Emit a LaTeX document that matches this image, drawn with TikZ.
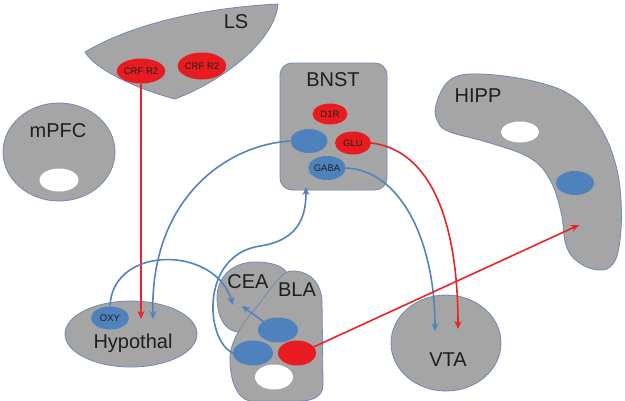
\documentclass[tikz,border=0pt]{standalone}
\usepackage{fontspec}
\setmainfont{Liberation Sans}
\usetikzlibrary{shapes.geometric,arrows.meta}
\definecolor{regfill}{RGB}{165,165,165}
\definecolor{regline}{RGB}{112,138,175}
\definecolor{cellblue}{RGB}{79,129,189}
\definecolor{cellred}{RGB}{232,28,32}
\definecolor{lineblue}{RGB}{84,130,188}
\definecolor{linered}{RGB}{232,36,40}
\definecolor{txt}{RGB}{30,30,30}
\begin{document}
\begin{tikzpicture}[x=1pt,y=-1pt,
  region/.style={fill=regfill,draw=regline,line width=0.8pt},
  cell/.style={ellipse,inner sep=0pt,draw=none,text=txt,font=\fontsize{9.5}{11}\selectfont},
  bluecell/.style={cell,fill=cellblue},
  redcell/.style={cell,fill=cellred},
  whitecell/.style={cell,fill=white},
  lab/.style={inner sep=0pt,text=txt,font=\fontsize{20}{24}\selectfont},
  tipstyle/.style={-{Stealth[length=8pt,width=7pt,inset=2.5pt]}},
  bluearrow/.style={draw=lineblue,line width=1.6pt,tipstyle},
  redarrow/.style={draw=linered,line width=1.6pt,tipstyle}
]
\useasboundingbox (0,0) rectangle (625,400);

% ---- regions ----
% LS
\draw[region] (85,52) .. controls (130,25) and (200,8) .. (278,4)
  .. controls (275,40) and (225,80) .. (175,99)
  .. controls (140,90) and (95,70) .. (85,52) -- cycle;
\node[lab] (lsl) at (236,22) {LS};
% mPFC
\draw[region] (59,152) ellipse [x radius=56, y radius=49];
\node[lab] (mpfcl) at (58,131) {mPFC};
% BNST
\node[region,rounded corners=12pt,minimum width=107pt,minimum height=127pt] (bnst) at (333.5,126.5) {};
\node[lab] (bnstl) at (333,80) {BNST};
% HIPP
\draw[region] plot[smooth cycle,tension=0.65] coordinates {(436,105) (450,80) (480,74) (537,82) (575,98) (600,127) (615,162) (621,200) (620,240) (613,264) (598,270) (578,262) (566,245) (561,212) (550,180) (530,158) (490,143) (450,132) (438,122)};
\node[lab] (hippl) at (478,96) {HIPP};
% Hypothal
\draw[region] (131,334) ellipse [x radius=66, y radius=33];
\node[lab] (hypl) at (133,343) {Hypothal};
% VTA
\draw[region] (446,343) ellipse [x radius=55, y radius=48];
\node[lab] (vtal) at (448,360) {VTA};
% CEA
\draw[region] (217,300) .. controls (216,275) and (235,262) .. (255,262)
  .. controls (275,262) and (290,268) .. (288,280) -- (265,310)
  .. controls (255,325) and (245,333) .. (237,332)
  .. controls (225,330) and (218,318) .. (217,300) -- cycle;
% BLA
\draw[region] (290,271) .. controls (305,270) and (320,278) .. (322,300)
  -- (323,385) .. controls (323,398) and (310,401) .. (300,401) -- (250,401)
  .. controls (237,399) and (230,380) .. (230,360)
  .. controls (229,345) and (240,325) .. (260,303)
  .. controls (270,290) and (280,273) .. (290,271) -- cycle;
\node[lab] (ceal) at (248,282) {CEA};
\node[lab] (blal) at (297,290) {BLA};

% ---- cells ----
\node[redcell,minimum width=42pt,minimum height=25pt] (crf1) at (141,71) {CRF R2};
\node[redcell,minimum width=42pt,minimum height=27pt] (crf2) at (202,66) {CRF R2};
\node[whitecell,minimum width=39pt,minimum height=23pt] (mpfcw) at (59,180) {};
\node[redcell,minimum width=35pt,minimum height=21pt] (d1r) at (330,114) {D1R};
\node[bluecell,minimum width=37pt,minimum height=24pt] (bnstb) at (309,141) {};
\node[redcell,minimum width=36pt,minimum height=23pt] (glu) at (353,143) {GLU};
\node[bluecell,minimum width=37pt,minimum height=24pt] (gaba) at (327,168) {GABA};
\node[whitecell,minimum width=38pt,minimum height=21pt] (hippw) at (520,132) {};
\node[bluecell,minimum width=38pt,minimum height=24pt] (hippb) at (575,183) {};
\node[bluecell,minimum width=38pt,minimum height=23pt] (oxy) at (110,318) {OXY};
\node[bluecell,minimum width=40pt,minimum height=25pt] (blab2) at (278,330) {};
\node[bluecell,minimum width=40pt,minimum height=25pt] (blab1) at (253,353) {};
\node[redcell,minimum width=38pt,minimum height=25pt] (blar) at (297,353) {};
\node[whitecell,minimum width=38pt,minimum height=25pt] (blaw) at (274,377) {};

% ---- arrow targets ----
\coordinate (hypin1) at (141,319);
\coordinate (hypin2) at (153,319);
\coordinate (ceain1) at (233,305);
\coordinate (ceain2) at (242,306);
\coordinate (bnstin) at (306,187);
\coordinate (vtain1) at (435,331);
\coordinate (vtain2) at (458,329);
\coordinate (hippin) at (579,225);
\coordinate (bend) at (260,246);

% ---- connectors ----
\draw[redarrow] (crf1.south) -- (hypin1);
\draw[bluearrow] (bnstb.west) .. controls (225,145) and (150,200) .. (hypin2);
\draw[bluearrow] (oxy.north) .. controls (112,245) and (215,245) .. (ceain1);
\draw[bluearrow] (blab1.west) .. controls (205,340) and (200,255) .. (bend)
  .. controls (300,240) and (306,215) .. (bnstin);
\draw[bluearrow] (blab2.150) -- (ceain2);
\draw[bluearrow] (gaba.east) .. controls (400,170) and (435,240) .. (vtain1);
\draw[redarrow] (glu.east) .. controls (430,150) and (458,220) .. (vtain2);
\draw[redarrow] (blar.20) -- (hippin);
\end{tikzpicture}
\end{document}
